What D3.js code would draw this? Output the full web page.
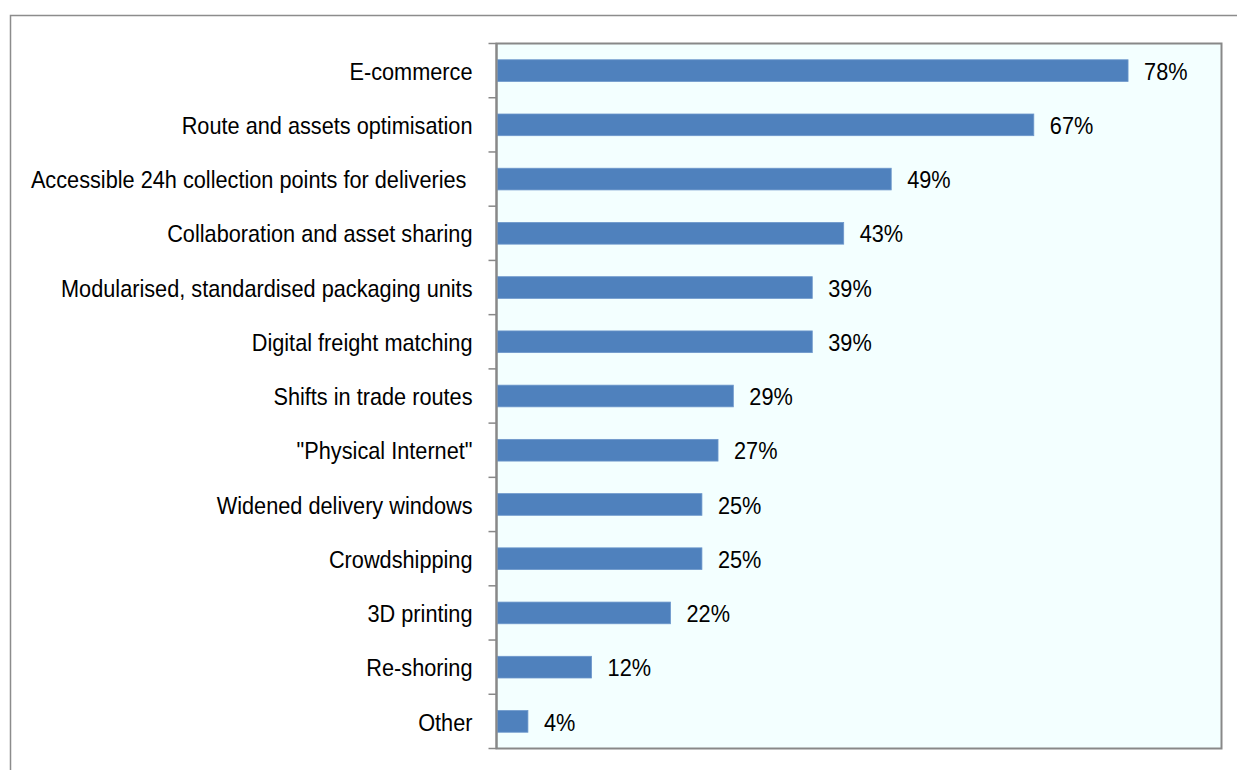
<!DOCTYPE html>
<html>
<head>
<meta charset="utf-8">
<script src="https://cdn.jsdelivr.net/npm/d3@7"></script>
<style>
  html, body { margin: 0; padding: 0; background: #ffffff; }
  svg { display: block; }
  text { font-family: "Liberation Sans", Arial, sans-serif; fill: #000; }
</style>
</head>
<body>
<svg id="chart" width="1237" height="770"></svg>
<script>
const categories = [
  "E-commerce",
  "Route and assets optimisation",
  "Accessible 24h collection points for deliveries ",
  "Collaboration and asset sharing",
  "Modularised, standardised packaging units",
  "Digital freight matching",
  "Shifts in trade routes",
  "\"Physical Internet\"",
  "Widened delivery windows",
  "Crowdshipping",
  "3D printing",
  "Re-shoring",
  "Other"
];
const values = [0.784, 0.667, 0.490, 0.431, 0.392, 0.392, 0.294, 0.275, 0.255, 0.255, 0.216, 0.118, 0.039];
const valueLabels = ["78%", "67%", "49%", "43%", "39%", "39%", "29%", "27%", "25%", "25%", "22%", "12%", "4%"];
const xDomain = [0, 0.9];

const svg = d3.select("#chart");
const plot = { left: 496.5, top: 43.5, right: 1221.5, bottom: 748.5 };
const fontSize = 24;
const squeeze = 0.905;

// outer frame
svg.append("rect")
  .attr("x", 10.5).attr("y", 15.5)
  .attr("width", 1400).attr("height", 900)
  .attr("fill", "#fff").attr("stroke", "#8c8c8c").attr("stroke-width", 1.5);

const x = d3.scaleLinear().domain(xDomain).range([plot.left, plot.right]);
const y = d3.scaleBand().domain(categories).range([plot.top, plot.bottom])
  .paddingInner(0.6).paddingOuter(0.3);

// plot background
svg.append("rect")
  .attr("x", plot.left).attr("y", plot.top)
  .attr("width", plot.right - plot.left).attr("height", plot.bottom - plot.top)
  .attr("fill", "#f3ffff")
  .attr("stroke", "#888").attr("stroke-width", 2);

// bars
svg.append("g").selectAll("rect").data(categories).join("rect")
  .attr("x", x(0) + 1)
  .attr("y", d => y(d))
  .attr("width", (d, i) => x(values[i]) - x(0) - 1)
  .attr("height", y.bandwidth())
  .attr("fill", "#4f81bd")
  .attr("stroke", "#6d97cb").attr("stroke-width", 0.8);

// left axis with ticks at band boundaries
const step = y.step();
const tickYs = d3.range(categories.length + 1).map(i => plot.top + i * step);
svg.append("g").selectAll("line").data(tickYs).join("line")
  .attr("x1", plot.left - 8).attr("x2", plot.left)
  .attr("y1", d => d).attr("y2", d => d)
  .attr("stroke", "#888").attr("stroke-width", 1.5);
svg.append("line")
  .attr("x1", plot.left).attr("x2", plot.left)
  .attr("y1", plot.top).attr("y2", plot.bottom)
  .attr("stroke", "#888").attr("stroke-width", 2);

// category labels
svg.append("g").selectAll("text").data(categories).join("text")
  .attr("transform", d => `translate(472.5,${y(d) + y.bandwidth() / 2 + 0.5}) scale(${squeeze},1)`)
  .attr("dy", "0.36em")
  .attr("text-anchor", "end")
  .style("font-size", fontSize + "px")
  .style("white-space", "pre")
  .text(d => d);

// value labels
svg.append("g").selectAll("text").data(categories).join("text")
  .attr("transform", (d, i) => `translate(${x(values[i]) + 16},${y(d) + y.bandwidth() / 2 + 0.5}) scale(${squeeze},1)`)
  .attr("dy", "0.36em")
  .attr("text-anchor", "start")
  .style("font-size", fontSize + "px")
  .text((d, i) => valueLabels[i]);
</script>
</body>
</html>
